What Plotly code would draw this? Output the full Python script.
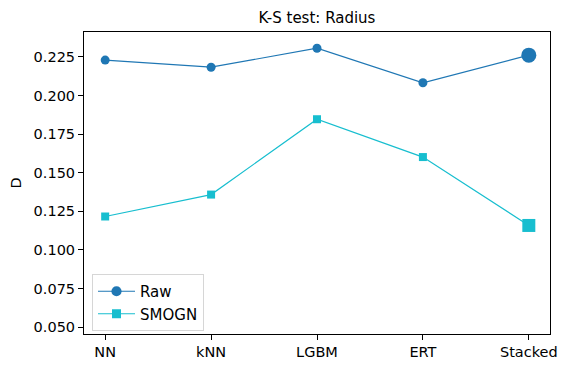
import plotly.graph_objects as go

models = ["NN", "kNN", "LGBM", "ERT", "Stacked"]
raw = [0.2229, 0.2183, 0.2306, 0.2082, 0.2261]
smogn = [0.1216, 0.1358, 0.1846, 0.1601, 0.1158]
y_ticks = [0.050, 0.075, 0.100, 0.125, 0.150, 0.175, 0.200, 0.225]

FONT = "DejaVu Sans"
idx = list(range(len(models)))

# page body has an 8px margin, so the figure is sized/positioned to compensate
W, H = 560, 361
L, T = 76, 24
PW, PH = 465.7, 302

fig = go.Figure()
fig.add_trace(go.Scatter(
    x=idx, y=raw, name="Raw", mode="lines+markers",
    line=dict(color="#1f77b4", width=1.2),
    marker=dict(symbol="circle", color="#1f77b4", size=[9, 9, 9, 9, 15],
                opacity=1, line=dict(width=0)),
))
fig.add_trace(go.Scatter(
    x=idx, y=smogn, name="SMOGN", mode="lines+markers",
    line=dict(color="#17becf", width=1.2),
    marker=dict(symbol="square", color="#17becf", size=[8, 8, 8, 8, 13],
                opacity=1, line=dict(width=0)),
))

fig.update_layout(
    width=W, height=H,
    margin=dict(l=L, r=W - L - PW, t=T, b=H - T - PH, autoexpand=False),
    paper_bgcolor="white", plot_bgcolor="white",
    font=dict(family=FONT, size=14.5, color="black"),
    title=dict(text="K-S test: Radius", x=0.5, xanchor="center",
               xref="paper", y=1 - 10 / H, yanchor="middle",
               font=dict(family=FONT, size=15, color="black")),
    showlegend=True,
    legend=dict(x=(92 - 84) / PW, y=(334 - 274) / PH, xanchor="left", yanchor="top",
                bgcolor="rgba(255,255,255,0.8)", bordercolor="#d6d6d6", borderwidth=1,
                font=dict(family=FONT, size=15, color="black"),
                tracegroupgap=0, itemwidth=37),
)
fig.update_xaxes(
    range=[-0.2, 4.2], tickmode="array", tickvals=idx, ticktext=models,
    showgrid=False, zeroline=False, showline=True, linecolor="black", linewidth=1,
    mirror=True, ticks="outside", ticklen=5, tickcolor="black", automargin=False,
    tickfont=dict(family=FONT, size=14.5, color="black"),
)
fig.update_yaxes(
    range=[0.0455, 0.2411], tickmode="array", tickvals=y_ticks,
    ticktext=[f"{v:.3f}" for v in y_ticks],
    showgrid=False, zeroline=False, showline=True, linecolor="black", linewidth=1,
    mirror=True, ticks="outside", ticklen=5, tickcolor="black", automargin=False,
    tickfont=dict(family=FONT, size=14.5, color="black"),
    title=dict(text="D", font=dict(family=FONT, size=14.5, color="black"), standoff=8),
)

fig.write_html("out.html")
